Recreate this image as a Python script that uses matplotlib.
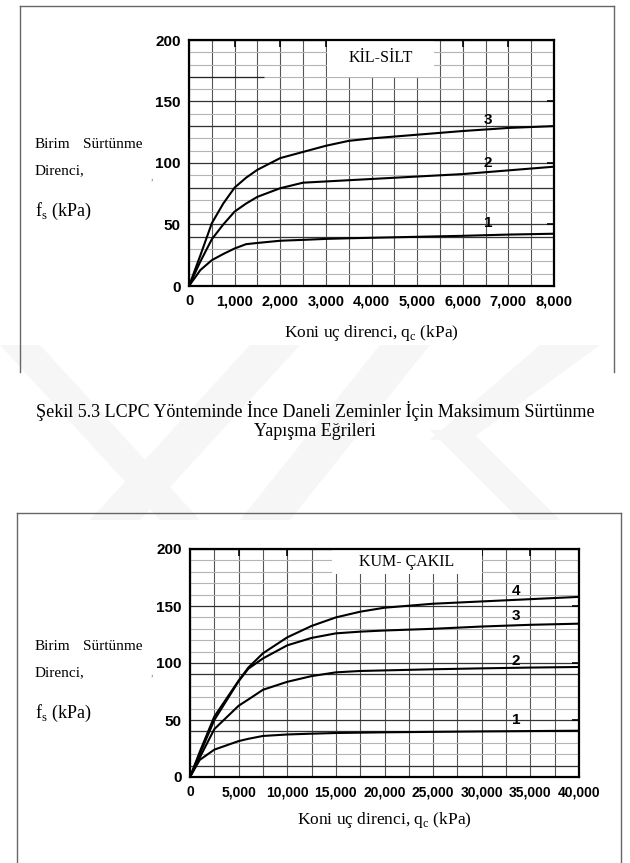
import matplotlib
matplotlib.use('Agg')
import matplotlib.pyplot as plt
from matplotlib.lines import Line2D
from matplotlib.patches import Polygon, Rectangle

W, H = 630, 863

# --- Kil-Silt (upper chart) ---
clay_qc = [0, 250, 500, 750, 1000, 1250, 1500, 2000, 2500, 3000, 3500, 4000, 5000, 6000, 7000, 8000]
clay_fs_3 = [0, 25, 51, 67, 80, 88, 94.5, 104, 109, 114, 118, 120, 123, 126, 128.5, 130]
clay_fs_2 = [0, 20, 38, 50, 60.5, 67, 72.5, 79.5, 84, 85, 86, 87, 89, 91, 94, 97]
clay_fs_1 = [0, 13, 21, 26, 30.5, 34, 35, 36.8, 37.5, 38.3, 38.8, 39.2, 40, 40.8, 41.8, 42.5]
clay_curve_names = ["3", "2", "1"]
clay_label_y = [135, 100, 51]

# --- Kum-Cakil (lower chart) ---
sand_qc = [0, 1000, 2500, 5000, 6000, 7500, 10000, 12500, 15000, 17500, 20000, 25000, 30000, 35000, 40000]
sand_fs_4 = [0, 22, 53, 84.5, 96, 108.5, 122.5, 132.5, 140, 145, 148.5, 152, 154, 156, 158]
sand_fs_3 = [0, 20, 50, 84, 95, 104, 115.5, 122, 126, 127.5, 128.5, 130, 132, 133.5, 134.5]
sand_fs_2 = [0, 17, 42, 62.5, 68, 76.5, 83.5, 88.5, 91.8, 93, 93.5, 94.5, 95.3, 96, 96.5]
sand_fs_1 = [0, 15, 24, 31.5, 33.5, 36, 37.3, 38, 38.6, 38.9, 39.2, 39.6, 40, 40.3, 40.6]
sand_curve_names = ["4", "3", "2", "1"]
sand_label_y = [163, 141, 102, 50]

TICK_FONT = dict(family="Liberation Sans", weight="bold")
SERIF = "Liberation Serif"


def fx(x):
    return x / W


def fy(y):
    return 1 - y / H


def panel_frame(fig, left, right, top, bottom):
    kw = dict(transform=fig.transFigure, color="#666666", lw=1.0)
    fig.add_artist(Line2D([fx(left), fx(right)], [fy(top), fy(top)], **kw))
    fig.add_artist(Line2D([fx(left), fx(left)], [fy(top), fy(bottom)], **kw))
    fig.add_artist(Line2D([fx(right), fx(right)], [fy(top), fy(bottom)], **kw))


def draw_chart(ax, qc, curves, names, label_x, label_y, xmax, xstep, xminor,
               dark_h, title, title_box, xfs):
    ax.set_xlim(0, xmax)
    ax.set_ylim(0, 200)
    xt = list(range(0, xmax + 1, xstep))
    ax.set_xticks(xt)
    ax.set_xticklabels([f"{v:,}" for v in xt], fontsize=xfs, **TICK_FONT)
    ax.set_xticks(list(range(0, xmax + 1, xminor)), minor=True)
    ax.set_yticks([0, 50, 100, 150, 200])
    ax.set_yticklabels(["0", "50", "100", "150", "200"], fontsize=11, **TICK_FONT)
    ax.set_yticks(list(range(0, 201, 10)), minor=True)

    ax.grid(True, which="both", axis="x", color="#555555", lw=0.8)
    ax.grid(True, which="minor", axis="y", color="#b4b4b4", lw=0.8)
    ax.grid(True, which="major", axis="y", color="#333333", lw=0.9)
    for v in dark_h:
        ax.axhline(v, color="#333333", lw=0.9, zorder=1)

    ax.tick_params(which="major", direction="in", length=5, width=1.2,
                   top=True, right=True, left=False, bottom=False,
                   labeltop=False, labelright=False, pad=6)
    ax.tick_params(which="minor", length=0)
    for s in ax.spines.values():
        s.set_linewidth(1.6)
        s.set_color("black")
    ax.set_axisbelow(True)

    x0, x1, y0 = title_box
    ax.add_patch(Rectangle((x0, y0), x1 - x0, 200 - y0, facecolor="white",
                           edgecolor="none", zorder=1.5))
    ax.text((x0 + x1) / 2, (y0 + 200) / 2, title, family=SERIF, fontsize=11.5,
            ha="center", va="center", zorder=3)

    for fs, name, ly in zip(curves, names, label_y):
        ax.plot(qc, fs, color="black", lw=1.5, zorder=4)
        ax.text(label_x, ly, name, fontsize=11, ha="center", va="center",
                zorder=5, **TICK_FONT)


def side_text(fig, y1, y2, y3, x_comma, y_comma):
    fig.text(fx(35), fy(y1), "Birim", family=SERIF, fontsize=11, va="center")
    fig.text(fx(143), fy(y1), "Sürtünme", family=SERIF, fontsize=11,
             va="center", ha="right")
    fig.text(fx(35), fy(y2), "Direnci,", family=SERIF, fontsize=11, va="center")
    fig.text(fx(35), fy(y3), r"f$_{\mathrm{s}}$ (kPa)", family=SERIF,
             fontsize=13, va="center")
    fig.text(fx(x_comma), fy(y_comma), ",", family=SERIF, fontsize=7,
             color="#777777", va="center")


plt.rcParams["mathtext.fontset"] = "custom"
plt.rcParams["mathtext.rm"] = SERIF

fig = plt.figure(figsize=(W / 100, H / 100), dpi=100)

# faint watermark chevrons
wm = "#f6f6f6"
for pts in [
    [(0, 345), (40, 345), (200, 520), (160, 520)],
    [(250, 345), (300, 345), (140, 520), (90, 520)],
    [(380, 345), (430, 345), (290, 520), (240, 520)],
    [(430, 430), (470, 430), (560, 520), (520, 520)],
    [(540, 345), (600, 345), (470, 440), (430, 440)],
]:
    fig.add_artist(Polygon([(fx(a), fy(b)) for a, b in pts], closed=True,
                           transform=fig.transFigure, facecolor=wm,
                           edgecolor="none", zorder=0))

# upper panel
panel_frame(fig, 20, 614, 6, 372)
ax1 = fig.add_axes([fx(189), fy(286), (554 - 189) / W, (286 - 40) / H])
draw_chart(ax1, clay_qc, [clay_fs_3, clay_fs_2, clay_fs_1], clay_curve_names,
           6550, clay_label_y, 8000, 1000, 500, [40, 80, 130],
           "KİL-SİLT", (3030, 5360, 170), 10.5)
ax1.hlines(170, 0, 1650, color="#222222", lw=0.9, zorder=1)
side_text(fig, 145, 171, 211, 151, 177)
fig.text((189 + 554) / 2 / W, fy(333), r"Koni uç direnci, q$_{\mathrm{c}}$ (kPa)",
         family=SERIF, fontsize=12.5, ha="center", va="center")

fig.text(0.5, fy(411), "Şekil 5.3 LCPC Yönteminde İnce Daneli Zeminler İçin Maksimum Sürtünme",
         family=SERIF, fontsize=13, ha="center", va="center")
fig.text(0.5, fy(431), "Yapışma Eğrileri", family=SERIF, fontsize=13,
         ha="center", va="center")

# lower panel
panel_frame(fig, 17, 621, 513, 870)
ax2 = fig.add_axes([fx(190), fy(777), (579 - 190) / W, (777 - 549) / H])
draw_chart(ax2, sand_qc, [sand_fs_4, sand_fs_3, sand_fs_2, sand_fs_1],
           sand_curve_names, 33500, sand_label_y, 40000, 5000, 2500,
           [10, 40, 90], "KUM- ÇAKIL", (14600, 30000, 178), 10)
side_text(fig, 647, 673, 713, 151, 673)
fig.text((190 + 579) / 2 / W, fy(820), r"Koni uç direnci, q$_{\mathrm{c}}$ (kPa)",
         family=SERIF, fontsize=12.5, ha="center", va="center")

fig.savefig("out.png", dpi=100)
